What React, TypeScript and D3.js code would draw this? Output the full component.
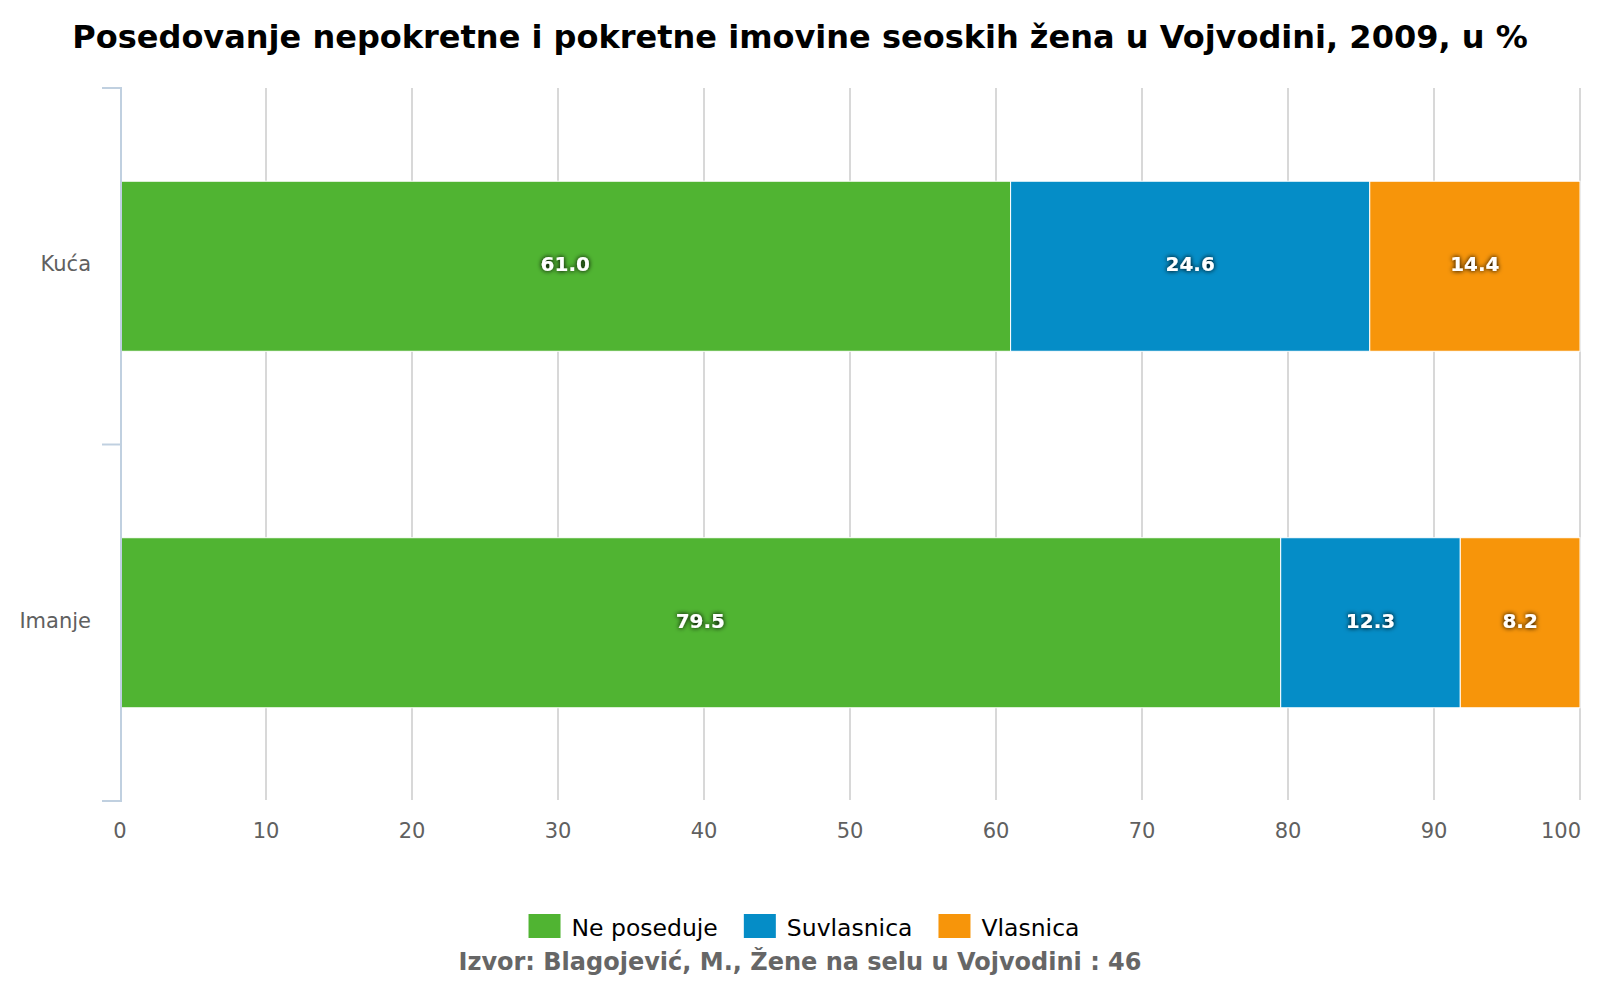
import React, { useEffect, useRef } from 'react';
import * as d3 from 'd3';

const categories = ['Kuća', 'Imanje'];
const seriesNames = ['Ne poseduje', 'Suvlasnica', 'Vlasnica'];
const neposeduje = [61.0, 79.5];
const suvlasnica = [24.6, 12.3];
const vlasnica = [14.4, 8.2];
const xTicks = [0, 10, 20, 30, 40, 50, 60, 70, 80, 90, 100];
const colors = ['#50B432', '#058DC7', '#F7950A'];

const W = 1600;
const H = 1000;
const FONT = '"DejaVu Sans", Verdana, sans-serif';

export default function App() {
  const svgRef = useRef<SVGSVGElement>(null);

  useEffect(() => {
    document.body.style.margin = '0';
    if (!svgRef.current) return;
    const svg = d3.select(svgRef.current);
    svg.selectAll('*').remove();

    const left = 120;
    const right = 1580;
    const top = 88;
    const bottom = 801;

    const x = d3.scaleLinear().domain([0, 100]).range([left, right]);
    const y = d3.scaleBand<string>()
      .domain(categories)
      .range([top, bottom])
      .paddingInner(0.523)
      .paddingOuter(0.2615);
    const step = y.step();

    // text shadow for data labels
    const defs = svg.append('defs');
    const f = defs.append('filter').attr('id', 'glow')
      .attr('x', '-30%').attr('y', '-50%').attr('width', '160%').attr('height', '200%');
    f.append('feGaussianBlur').attr('in', 'SourceAlpha').attr('stdDeviation', 2.4).attr('result', 'b');
    f.append('feComponentTransfer').attr('in', 'b').attr('result', 'b2')
      .append('feFuncA').attr('type', 'linear').attr('slope', 1.1);
    const m = f.append('feMerge');
    m.append('feMergeNode').attr('in', 'b2');
    m.append('feMergeNode').attr('in', 'SourceGraphic');

    // title
    svg.append('text')
      .attr('x', W / 2).attr('y', 48)
      .attr('text-anchor', 'middle')
      .style('font-family', FONT).style('font-weight', 'bold').style('font-size', '32px')
      .style('fill', '#000')
      .text('Posedovanje nepokretne i pokretne imovine seoskih žena u Vojvodini, 2009, u %');

    // grid lines
    svg.append('g').selectAll('line')
      .data(xTicks.filter(t => t > 0))
      .enter().append('line')
      .attr('x1', d => x(d)).attr('x2', d => x(d))
      .attr('y1', top).attr('y2', bottom - 1)
      .attr('stroke', '#d8d8d8').attr('stroke-width', 2);

    // x tick labels (last one justified inside the chart)
    const last = xTicks[xTicks.length - 1];
    svg.append('g').selectAll('text')
      .data(xTicks)
      .enter().append('text')
      .attr('x', d => (d === last ? x(d) + 1 : x(d)))
      .attr('y', 838)
      .attr('text-anchor', d => (d === last ? 'end' : 'middle'))
      .style('font-family', FONT).style('font-size', '21px').style('fill', '#606060')
      .text(d => d);

    // stacked bars
    const table = categories.map((c, i) => ({
      cat: c,
      'Ne poseduje': neposeduje[i],
      Suvlasnica: suvlasnica[i],
      Vlasnica: vlasnica[i],
    }));
    const stack = d3.stack<any>().keys(seriesNames)(table);

    const layers = svg.append('g').selectAll('g')
      .data(stack)
      .enter().append('g')
      .attr('fill', (_, i) => colors[i]);

    layers.selectAll('rect')
      .data(d => d)
      .enter().append('rect')
      .attr('x', d => x(d[0]))
      .attr('width', d => x(d[1]) - x(d[0]))
      .attr('y', d => y(d.data.cat)!)
      .attr('height', y.bandwidth())
      .attr('stroke', '#fff').attr('stroke-width', 1);

    layers.selectAll('text')
      .data(d => d)
      .enter().append('text')
      .attr('x', d => (x(d[0]) + x(d[1])) / 2)
      .attr('y', d => y(d.data.cat)! + y.bandwidth() / 2 + 5)
      .attr('text-anchor', 'middle')
      .attr('filter', 'url(#glow)')
      .style('font-family', FONT).style('font-weight', 'bold').style('font-size', '20px')
      .style('fill', '#fff')
      .text(d => (d[1] - d[0]).toFixed(1));

    // y axis line + ticks
    const axis = svg.append('g').attr('stroke', '#C0D0E0').attr('stroke-width', 2);
    axis.append('line').attr('x1', left + 1).attr('x2', left + 1).attr('y1', top - 1).attr('y2', bottom + 1);
    const tickYs = [top, ...categories.slice(1).map(c => y(c)! - (step - y.bandwidth()) / 2), bottom];
    axis.selectAll('line.tick')
      .data(tickYs)
      .enter().append('line')
      .attr('class', 'tick')
      .attr('x1', 102).attr('x2', left + 1)
      .attr('y1', d => d).attr('y2', d => d);

    // category labels
    svg.append('g').selectAll('text')
      .data(categories)
      .enter().append('text')
      .attr('x', 91)
      .attr('y', d => y(d)! + y.bandwidth() / 2 + 5)
      .attr('text-anchor', 'end')
      .style('font-family', FONT).style('font-size', '21px').style('fill', '#606060')
      .text(d => d);

    // legend
    const legend = svg.append('g');
    const items = legend.selectAll('g')
      .data(seriesNames)
      .enter().append('g');
    items.append('rect')
      .attr('width', 32).attr('height', 24).attr('y', 914)
      .attr('fill', (_, i) => colors[i]);
    const labels = items.append('text')
      .attr('x', 43).attr('y', 936)
      .style('font-family', FONT).style('font-size', '23.5px').style('fill', '#000')
      .text(d => d);
    const widths: number[] = [];
    labels.each(function () { widths.push((this as SVGTextElement).getComputedTextLength()); });
    const gap = 26;
    const itemW = widths.map(w => 43 + w);
    const total = d3.sum(itemW) + gap * (itemW.length - 1);
    let cx = W / 2 + 4 - total / 2;
    const offs: number[] = [];
    itemW.forEach(w => { offs.push(cx); cx += w + gap; });
    items.attr('transform', (_, i) => `translate(${offs[i]},0)`);

    // source
    svg.append('text')
      .attr('x', W / 2).attr('y', 970)
      .attr('text-anchor', 'middle')
      .style('font-family', FONT).style('font-weight', 'bold').style('font-size', '24px')
      .style('fill', '#666')
      .text('Izvor: Blagojević, M., Žene na selu u Vojvodini : 46');
  }, []);

  return (
    <svg ref={svgRef} width={W} height={H} viewBox={`0 0 ${W} ${H}`} style={{ display: 'block', background: '#fff' }} />
  );
}
